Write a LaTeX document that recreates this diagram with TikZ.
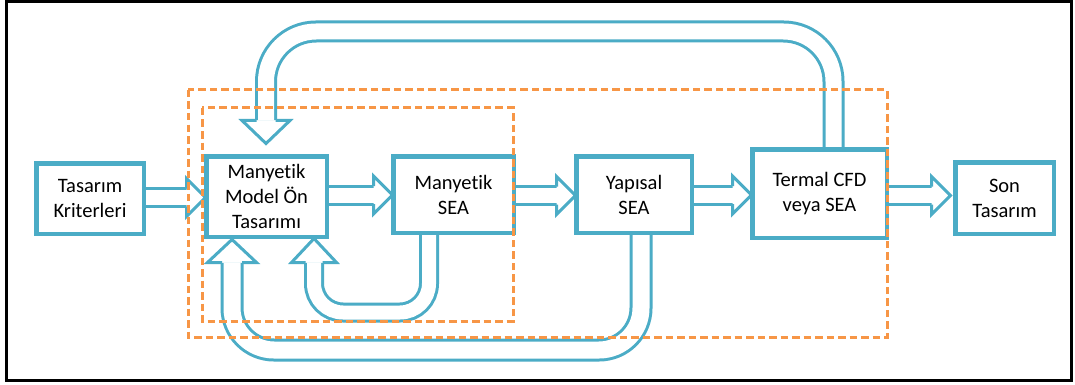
\documentclass[tikz,border=0pt]{standalone}
\usepackage{fontspec}
\setmainfont{Carlito}[Ligatures={NoCommon,NoContextual}]
\usetikzlibrary{calc}
\definecolor{myblue}{HTML}{4BACC6}
\definecolor{myorange}{HTML}{F79646}
\newcommand{\hblk}[2]{%
  \draw[shafto] (#1) -- ($(#2)+(-19,0)$);
  \draw[shafti] (#1) -- ($(#2)+(-19,0)$);
  \filldraw[hd] ($(#2)+(-19,-9)$) -- ($(#2)+(-19,-19)$) -- (#2) -- ($(#2)+(-19,19)$) -- ($(#2)+(-19,9)$);
}
\begin{document}
\begin{tikzpicture}[x=1pt,y=-1pt,
  box/.style={draw=myblue, line width=3pt, fill=white, align=center, inner sep=0pt,
    text=black, font=\fontsize{20.5}{25}\selectfont},
  shafto/.style={myblue, line width=21pt},
  shafti/.style={white, line width=15pt},
  hd/.style={draw=myblue, fill=white, line width=3pt, line join=miter},
  orangedash/.style={draw=myorange, line width=3pt, dash pattern=on 7.5pt off 4pt}]
\useasboundingbox (0,0) rectangle (1075,385);
\fill[white] (0,0) rectangle (1075,385);
\draw[line width=3pt] (6.5,1.5) rectangle (1071,380);

% nodes
\node[box, minimum width=106, minimum height=69] (A) at (90,198.5) {Tasarım\\Kriterleri};
\node[box, minimum width=119, minimum height=79] (B) at (266.5,196.5) {Manyetik\\Model Ön\\Tasarımı};
\node[box, minimum width=119, minimum height=75] (C) at (453.5,194.5) {Manyetik\\SEA};
\node[box, minimum width=114, minimum height=75] (D) at (634,194.5) {Yapısal\\SEA};
\node[box, minimum width=133, minimum height=87] (E) at (819.5,193.5) {Termal CFD\\veya SEA};
\node[box, minimum width=97, minimum height=70] (F) at (1004.5,198) {Son\\Tasarım};

% straight block arrows
\coordinate (ab1) at ($(A.east)+(0,-1)$); \coordinate (ab2) at (B.west |- ab1);
\coordinate (bc1) at ($(B.east)+(0,-1.5)$); \coordinate (bc2) at (C.west |- bc1);
\coordinate (cd1) at ($(C.east)+(0,1)$); \coordinate (cd2) at (D.west |- cd1);
\coordinate (de1) at ($(D.east)+(0,0.5)$); \coordinate (de2) at (E.west |- de1);
\coordinate (ef1) at ($(E.east)+(0,2)$); \coordinate (ef0) at (F.west |- ef1);
\coordinate (ef2) at ($(ef0)+(-4,0)$);
\hblk{ab1}{ab2}
\hblk{bc1}{bc2}
\hblk{cd1}{cd2}
\hblk{de1}{de2}
\hblk{ef1}{ef2}

% top feedback arrow E -> B
\coordinate (t1) at ($(E.north)+(14,0)$);
\coordinate (t3) at ($(B.north)+(-0.5,-124)$);
\coordinate (t4) at ($(B.north)+(-0.5,-35)$);
\draw[myblue, line width=22pt, rounded corners=50pt] (t1) |- (t3) -- (t4);
\draw[white, line width=16pt, rounded corners=50pt] (t1) |- (t3) -- (t4);
\filldraw[hd] ($(t4)+(-9.5,0)$) -- ($(t4)+(-24,0)$) -- ($(t4)+(0,23)$) -- ($(t4)+(24,0)$) -- ($(t4)+(9.5,0)$);

% inner loop arrow C -> B
\coordinate (m1) at ($(C.south)+(-24.5,0)$);
\coordinate (m3) at ($(B.south)+(47.5,75)$);
\coordinate (m4) at ($(B.south)+(47.5,25)$);
\draw[myblue, line width=20pt, rounded corners=29pt] (m1) |- (m3) -- (m4);
\draw[white, line width=14pt, rounded corners=29pt] (m1) |- (m3) -- (m4);
\filldraw[hd] ($(m4)+(-8.5,0)$) -- ($(m4)+(-22.5,0)$) -- ($(m4)+(0,-24)$) -- ($(m4)+(22.5,0)$) -- ($(m4)+(8.5,0)$);

% outer loop arrow D -> B
\coordinate (n1) at ($(D.south)+(7,0)$);
\coordinate (n3) at ($(B.south)+(-34.5,112.5)$);
\coordinate (n4) at ($(B.south)+(-34.5,25)$);
\draw[myblue, line width=23pt, rounded corners=42pt] (n1) |- (n3) -- (n4);
\draw[white, line width=17pt, rounded corners=42pt] (n1) |- (n3) -- (n4);
\filldraw[hd] ($(n4)+(-10,0)$) -- ($(n4)+(-24.5,0)$) -- ($(n4)+(0,-23)$) -- ($(n4)+(24.5,0)$) -- ($(n4)+(10,0)$);

% redraw box borders over arrow ends
\foreach \n in {A,B,C,D,E,F} {\draw[myblue, line width=3pt] (\n.north west) rectangle (\n.south east);}

% dashed groups
\draw[orangedash] (188,90) rectangle (887,337);
\draw[orangedash] (202,108) rectangle (513,321);
\end{tikzpicture}
\end{document}
